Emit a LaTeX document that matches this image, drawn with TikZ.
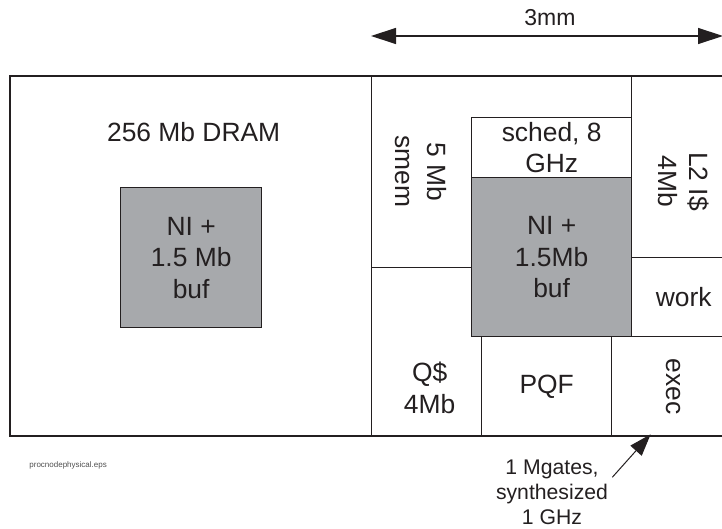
\documentclass[tikz,border=0pt]{standalone}
\usepackage{fontspec}
\setmainfont{Liberation Sans}
\usepackage{tikz}
\usetikzlibrary{arrows.meta}
\definecolor{inkdark}{HTML}{231F20}
\definecolor{nigray}{HTML}{A7A9AC}
\definecolor{notegray}{HTML}{505050}

\begin{document}
\begin{tikzpicture}[
    x=0.5pt, y=-0.5pt,
    font=\fontsize{13.2}{15.75}\selectfont,
    wall/.style={draw=inkdark, line width=0.65pt},
    blk/.style={wall, anchor=north west, inner sep=0pt, align=center, text=inkdark},
    nibox/.style={blk, fill=nigray},
    txt/.style={inner sep=0pt, align=center, text=inkdark},
    dimline/.style={draw=inkdark, line width=0.65pt, {Triangle[length=12.5pt,width=8pt]}-{Triangle[length=12.5pt,width=8pt]}},
    pointer/.style={draw=inkdark, line width=0.5pt, -{Triangle[length=11pt,width=7.5pt]}}
]
  \useasboundingbox (0,0) rectangle (722,529);
  \draw[wall] (10,76) rectangle (740,436);

  \node[blk, minimum width=180.5pt, minimum height=180pt] (dram) at (10,76) {};
  \node[txt] (dramlbl) at ([xshift=1.25pt, yshift=-28pt]dram.north) {256 Mb DRAM};
  \node[nibox, minimum width=70.5pt, minimum height=70pt] (dramni) at (120,187) {NI +\\1.5 Mb\\buf};

  \node[txt, rotate=-90] (smem) at (421,171.5) {5 Mb\\smem};

  \node[blk, minimum width=55pt, minimum height=84.5pt] (qc) at (371,267) {};
  \node[txt] (qctxt) at ([xshift=1.5pt, yshift=-17.75pt]qc.center) {Q\$\\4Mb};
  \node[blk, minimum width=65pt, minimum height=50pt] (pqf) at (481,336) {PQF};
  \node[blk, minimum width=62pt, minimum height=50pt] (exec) at (611,336) {};
  \node[txt, rotate=-90] (exectxt) at (exec.center) {exec};
  \node[blk, minimum width=52pt, minimum height=90.5pt] (l2) at (631,76) {};
  \node[txt, rotate=-90] (l2txt) at ([yshift=-7.25pt]l2.center) {L2 I\$\\4Mb};
  \node[blk, minimum width=52pt, minimum height=39.5pt] (work) at (631,257) {work};
  \node[blk, minimum width=80pt, minimum height=30pt] (sched) at (471,117) {sched, 8\\GHz};
  \node[nibox, minimum width=80pt, minimum height=79.5pt] (ni) at (471,177) {NI +\\1.5Mb\\buf};

  \coordinate (dimL) at (371,36);
  \coordinate (dimR) at (723,36);
  \draw[dimline] (dimL) -- (dimR) node[txt, midway, above=5pt, xshift=1.5pt, font=\fontsize{11.5}{14}\selectfont] (dimlbl) {3mm};

  \node[txt, font=\fontsize{10.6}{12.5}\selectfont] (gates) at (552,492) {1 Mgates,\\synthesized\\1 GHz};
  \draw[pointer] ([xshift=2pt, yshift=-9pt]gates.north east) -- ([xshift=-11.5pt, yshift=1.5pt]exec.south);

  \node[txt, anchor=west, text=notegray, font=\fontsize{4}{5}\selectfont] (fname) at (29,465) {procnodephysical.eps};
\end{tikzpicture}
\end{document}
